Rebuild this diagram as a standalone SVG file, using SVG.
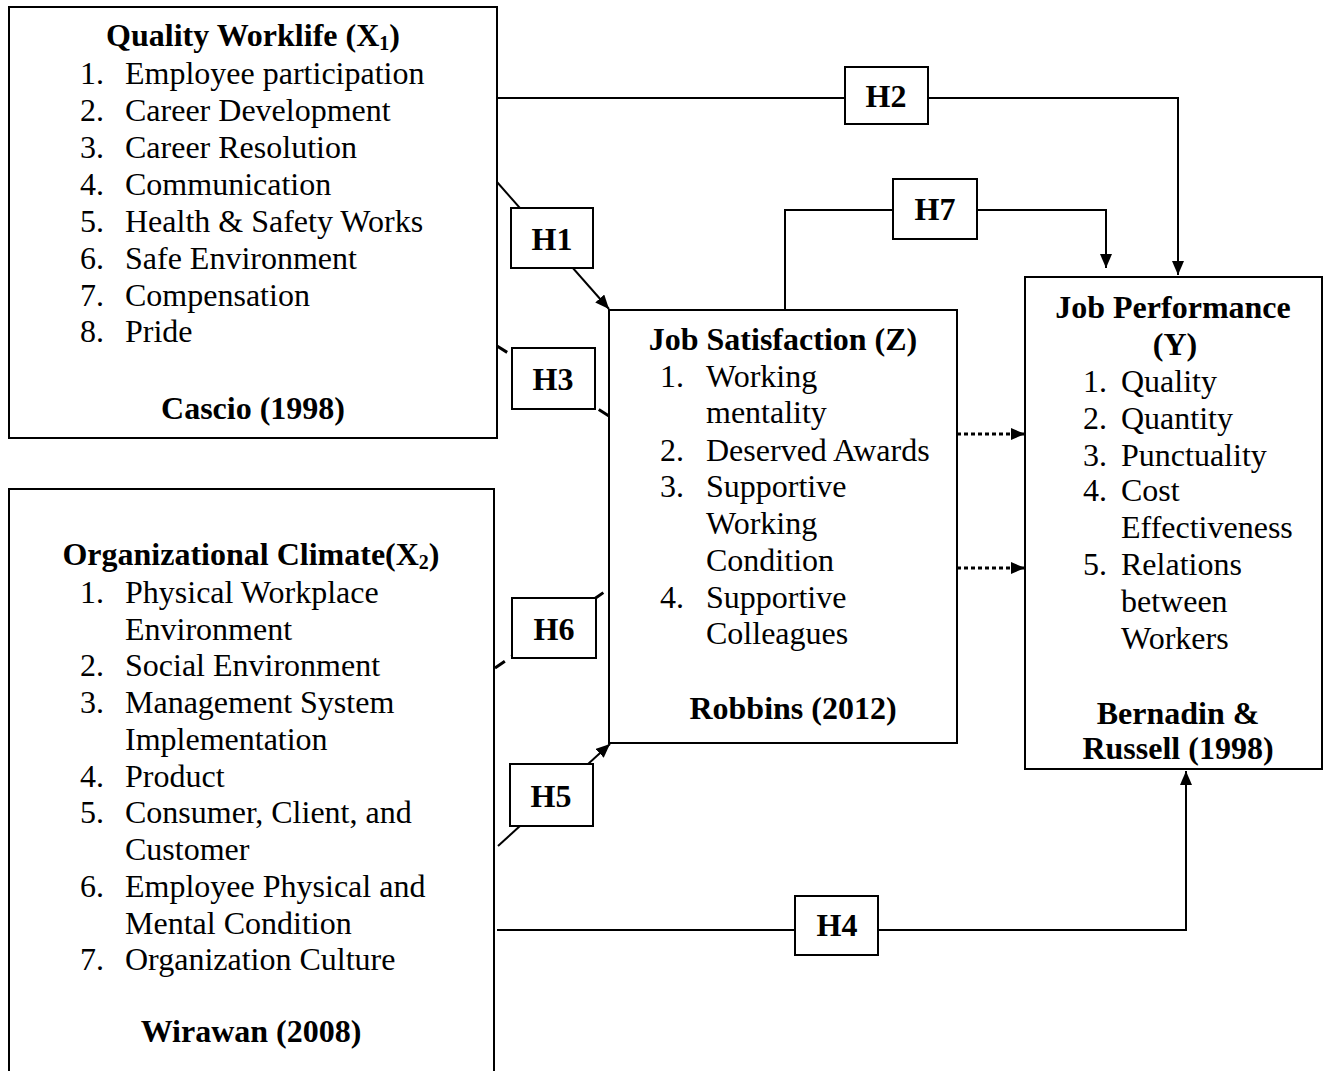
<svg xmlns="http://www.w3.org/2000/svg" width="1328" height="1071" viewBox="0 0 1328 1071">
<defs>
<marker id="arr" markerWidth="14" markerHeight="12" refX="14" refY="6" orient="auto" markerUnits="userSpaceOnUse">
<path d="M0,0 L14,6 L0,12 Z" fill="#000"/>
</marker>
<style>
text{font-family:"Liberation Serif","Times New Roman",serif;font-size:32px;fill:#000}
.b{font-weight:bold}
.c{text-anchor:middle}
.box{fill:#fff;stroke:#000;stroke-width:2}
.ln{fill:none;stroke:#000;stroke-width:2}
.dash{fill:none;stroke:#000;stroke-width:3;stroke-dasharray:12 8}
.dot{fill:none;stroke:#000;stroke-width:3;stroke-dasharray:4 3}
</style>
</defs>
<rect width="1328" height="1071" fill="#fff"/>
<g id="connectors">
<path class="ln" d="M497,98 H1178 V275" marker-end="url(#arr)"/>
<path class="ln" d="M785,310 V210 H1106 V268" marker-end="url(#arr)"/>
<line class="ln" x1="497" y1="182" x2="609" y2="309" marker-end="url(#arr)"/>
<line class="dash" x1="497" y1="346" x2="609" y2="416"/>
<line class="dash" x1="495" y1="668" x2="610" y2="588"/>
<line class="ln" x1="498" y1="846" x2="610" y2="744" marker-end="url(#arr)"/>
<path class="ln" d="M497,930 H1186 V771" marker-end="url(#arr)"/>
<line class="dot" x1="957" y1="434" x2="1025" y2="434" marker-end="url(#arr)"/>
<line class="dot" x1="957" y1="568" x2="1025" y2="568" marker-end="url(#arr)"/>
</g>
<g id="H1"><rect class="box" x="511" y="208" width="82" height="60"/><text class="b c" x="552" y="250">H1</text></g>
<g id="H2"><rect class="box" x="845" y="67" width="83" height="57"/><text class="b c" x="886" y="107">H2</text></g>
<g id="H3"><rect class="box" x="512" y="348" width="83" height="61"/><text class="b c" x="553" y="390">H3</text></g>
<g id="H4"><rect class="box" x="795" y="896" width="83" height="59"/><text class="b c" x="837" y="936">H4</text></g>
<g id="H5"><rect class="box" x="510" y="764" width="83" height="62"/><text class="b c" x="551" y="807">H5</text></g>
<g id="H6"><rect class="box" x="512" y="598" width="84" height="60"/><text class="b c" x="554" y="640">H6</text></g>
<g id="H7"><rect class="box" x="893" y="179" width="84" height="60"/><text class="b c" x="935" y="220">H7</text></g>
<g id="X1">
<rect class="box" x="9" y="7" width="488" height="431"/>
<text class="b c" x="253" y="46">Quality Worklife (X<tspan font-size="20" dy="4">1</tspan><tspan dy="-4">)</tspan></text>
<text x="80" y="84">1.</text><text x="125" y="84">Employee participation</text>
<text x="80" y="121">2.</text><text x="125" y="121">Career Development</text>
<text x="80" y="158">3.</text><text x="125" y="158">Career Resolution</text>
<text x="80" y="195">4.</text><text x="125" y="195">Communication</text>
<text x="80" y="232">5.</text><text x="125" y="232">Health &amp; Safety Works</text>
<text x="80" y="269">6.</text><text x="125" y="269">Safe Environment</text>
<text x="80" y="306">7.</text><text x="125" y="306">Compensation</text>
<text x="80" y="342">8.</text><text x="125" y="342">Pride</text>
<text class="b c" x="253" y="419">Cascio (1998)</text>
</g>
<g id="X2">
<rect class="box" x="9" y="489" width="485" height="590"/>
<text class="b c" x="251" y="565">Organizational Climate(X<tspan font-size="20" dy="4">2</tspan><tspan dy="-4">)</tspan></text>
<text x="80" y="603">1.</text><text x="125" y="603">Physical Workplace</text>
<text x="125" y="640">Environment</text>
<text x="80" y="676">2.</text><text x="125" y="676">Social Environment</text>
<text x="80" y="713">3.</text><text x="125" y="713">Management System</text>
<text x="125" y="750">Implementation</text>
<text x="80" y="787">4.</text><text x="125" y="787">Product</text>
<text x="80" y="823">5.</text><text x="125" y="823">Consumer, Client, and</text>
<text x="125" y="860">Customer</text>
<text x="80" y="897">6.</text><text x="125" y="897">Employee Physical and</text>
<text x="125" y="934">Mental Condition</text>
<text x="80" y="970">7.</text><text x="125" y="970">Organization Culture</text>
<text class="b c" x="251" y="1042">Wirawan (2008)</text>
</g>
<g id="Z">
<rect class="box" x="609" y="310" width="348" height="433"/>
<text class="b c" x="783" y="350">Job Satisfaction (Z)</text>
<text x="660" y="387">1.</text><text x="706" y="387">Working</text>
<text x="706" y="423">mentality</text>
<text x="660" y="461">2.</text><text x="706" y="461">Deserved Awards</text>
<text x="660" y="497">3.</text><text x="706" y="497">Supportive</text>
<text x="706" y="534">Working</text>
<text x="706" y="571">Condition</text>
<text x="660" y="608">4.</text><text x="706" y="608">Supportive</text>
<text x="706" y="644">Colleagues</text>
<text class="b c" x="793" y="719">Robbins (2012)</text>
</g>
<g id="Y">
<rect class="box" x="1025" y="277" width="297" height="492"/>
<text class="b c" x="1173" y="318">Job Performance</text>
<text class="b c" x="1175" y="355">(Y)</text>
<text x="1083" y="392">1.</text><text x="1121" y="392">Quality</text>
<text x="1083" y="429">2.</text><text x="1121" y="429">Quantity</text>
<text x="1083" y="466">3.</text><text x="1121" y="466">Punctuality</text>
<text x="1083" y="501">4.</text><text x="1121" y="501">Cost</text>
<text x="1121" y="538">Effectiveness</text>
<text x="1083" y="575">5.</text><text x="1121" y="575">Relations</text>
<text x="1121" y="612">between</text>
<text x="1121" y="649">Workers</text>
<text class="b c" x="1178" y="724">Bernadin &amp;</text>
<text class="b c" x="1178" y="759">Russell (1998)</text>
</g>
</svg>
